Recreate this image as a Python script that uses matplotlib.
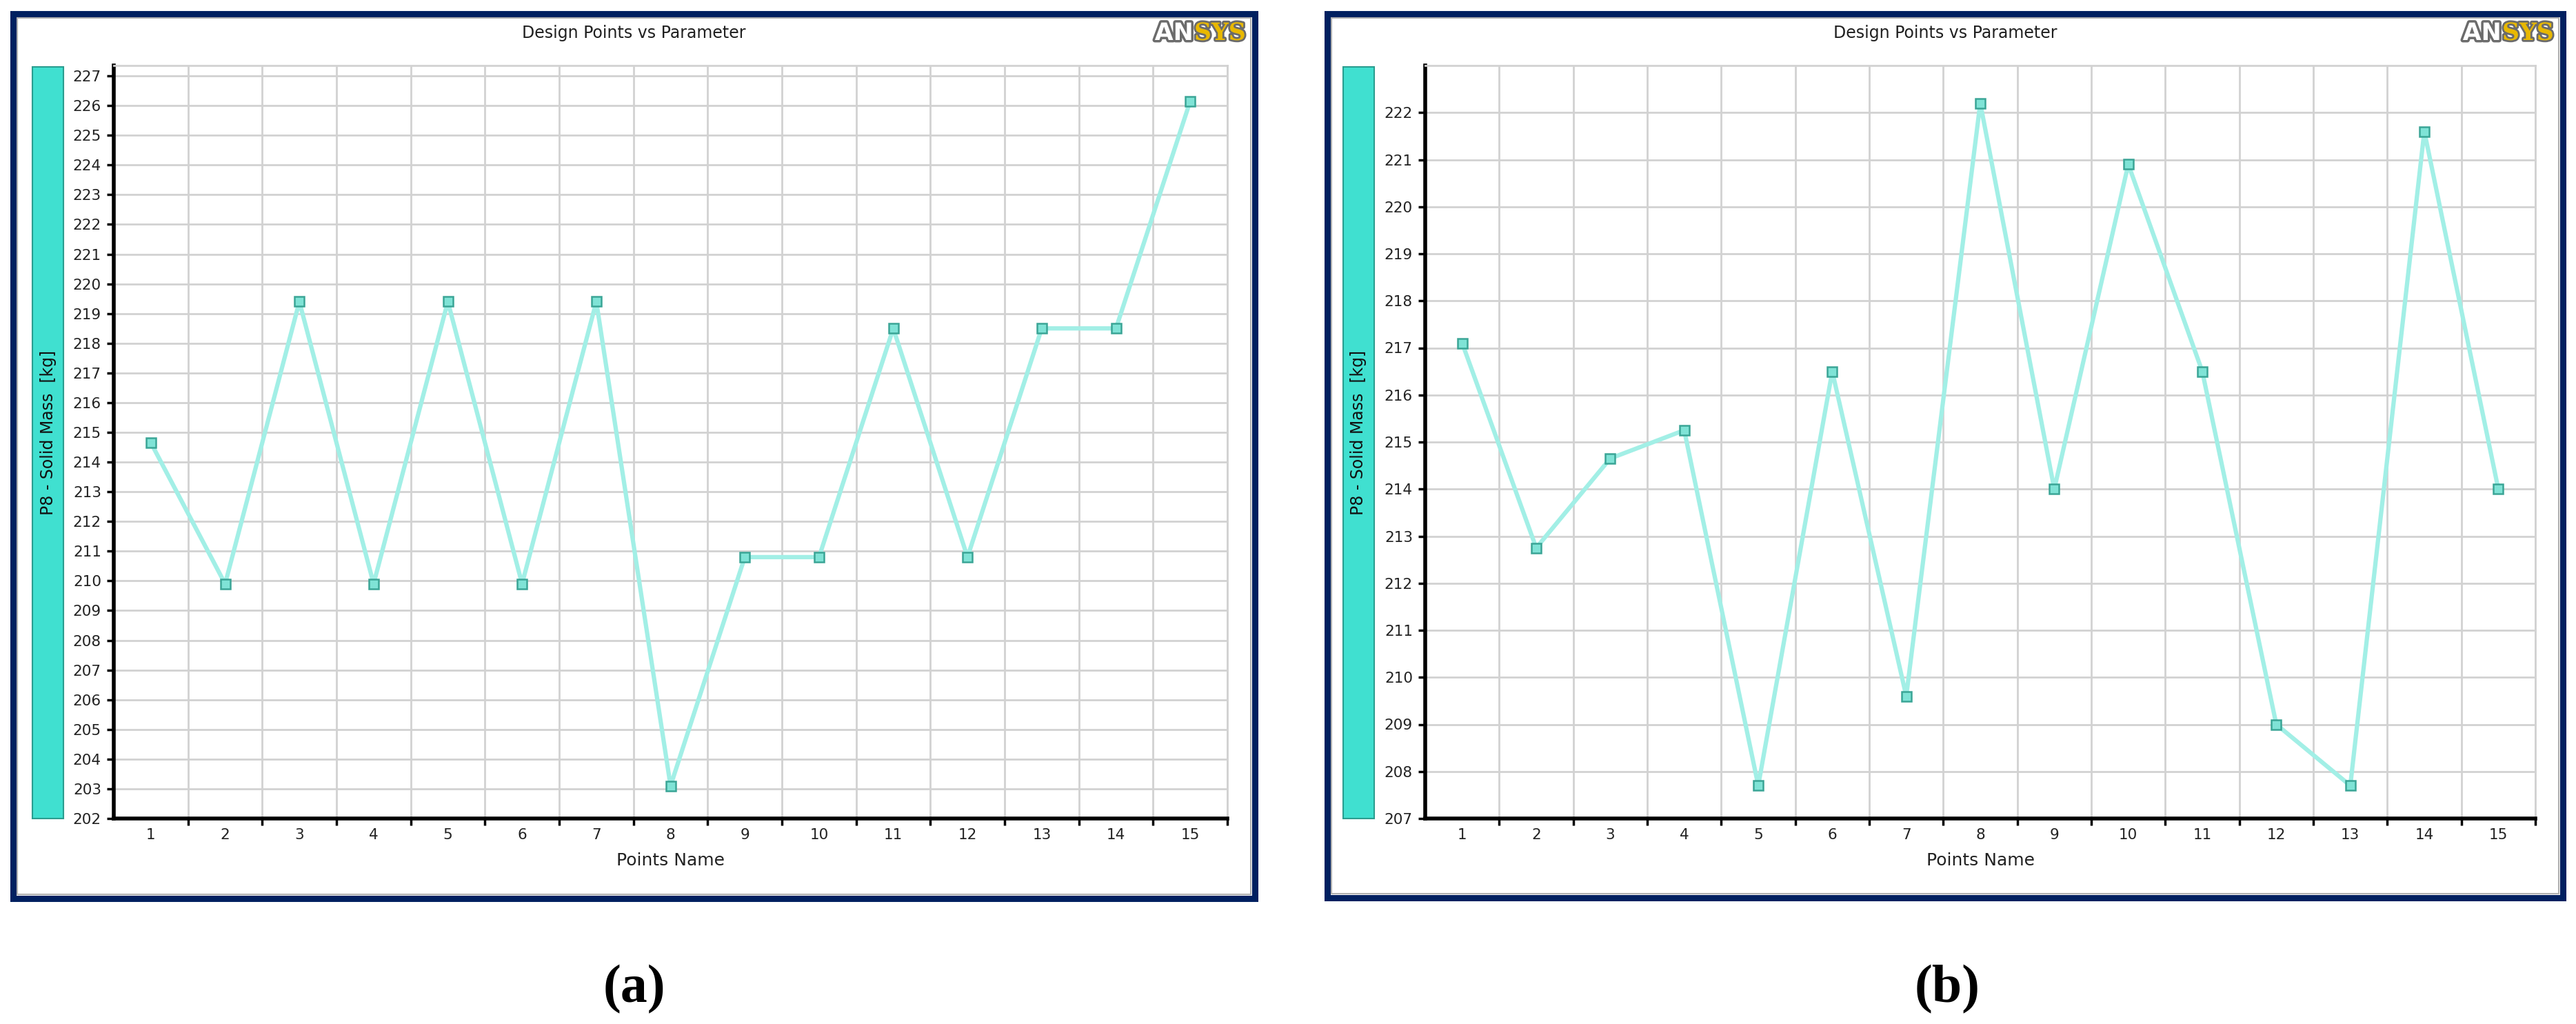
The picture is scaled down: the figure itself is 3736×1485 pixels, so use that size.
import matplotlib
matplotlib.use("Agg")
import matplotlib.pyplot as plt
import matplotlib.patches as patches
import matplotlib.patheffects as pe

# data
points = list(range(1, 16))
mass_a = [214.65, 209.9, 219.4, 209.9, 219.4, 209.9, 219.4, 203.1,
          210.8, 210.8, 218.5, 210.8, 218.5, 218.5, 226.15]
mass_b = [217.1, 212.75, 214.65, 215.25, 207.7, 216.5, 209.6, 222.2,
          214.0, 220.9, 216.5, 209.0, 207.7, 221.6, 214.0]
yticks_a = list(range(202, 228))
yticks_b = list(range(207, 223))
title = "Design Points vs Parameter"
ylabel = "P8 - Solid Mass  [kg]"
xlabel = "Points Name"
captions = ["(a)", "(b)"]

W, H = 3736, 1485
fig = plt.figure(figsize=(W / 100, H / 100), dpi=100)
fig.patch.set_facecolor("white")
renderer = fig.canvas.get_renderer()

NAVY = "#002060"
LINE = "#a2efe6"
TEAL = "#40e0d0"


def fbox(x0, y0, x1, y1):
    # pixel box (top-left origin) -> figure fraction [l, b, w, h]
    return [x0 / W, 1 - y1 / H, (x1 - x0) / W, (y1 - y0) / H]


def panel(frame, axbox, bar, values, yticks, ylim):
    fx0, fy0, fx1, fy1 = frame
    l, b, w, h = fbox(fx0, fy0, fx1, fy1)
    fig.patches.append(patches.Rectangle((l, b), w, h, transform=fig.transFigure,
                                         facecolor="white", edgecolor=NAVY, linewidth=6.5, zorder=-2))
    l2, b2, w2, h2 = fbox(fx0 + 6, fy0 + 6, fx1 - 6, fy1 - 6)
    fig.patches.append(patches.Rectangle((l2, b2), w2, h2, transform=fig.transFigure,
                                         facecolor="none", edgecolor="#b0b0b0", linewidth=1.5, zorder=-1))
    cx = (fx0 + fx1) / 2
    fig.text(cx / W, 1 - 48 / H, title, ha="center", va="center", fontsize=17, color="#202020")

    # ANSYS logo, "SYS" first then "AN" placed to its left
    lx = fx1 - 13
    sys_t = fig.text(lx / W, 1 - 48 / H, "SYS", ha="right", va="center", fontsize=25,
                     fontweight="bold", family="DejaVu Serif", color="#e8b800",
                     path_effects=[pe.withStroke(linewidth=4, foreground="#6b6b6b")])
    ext = sys_t.get_window_extent(renderer)
    fig.text((ext.x0 - 1) / W, 1 - 48 / H, "AN", ha="right", va="center", fontsize=25,
             fontweight="bold", family="DejaVu Sans", color="white",
             path_effects=[pe.withStroke(linewidth=5, foreground="#6b6b6b")])

    # teal y-label bar
    bx0, by0, bx1, by1 = bar
    lb = fbox(bx0, by0, bx1, by1)
    fig.patches.append(patches.Rectangle((lb[0], lb[1]), lb[2], lb[3], transform=fig.transFigure,
                                         facecolor=TEAL, edgecolor="#2a9d8f", linewidth=1.5, zorder=2))
    fig.text((bx0 + bx1) / 2 / W, 1 - ((by0 + by1) / 2 - 15) / H, ylabel, rotation=90,
             ha="center", va="center", fontsize=17, color="#111111", zorder=3)

    ax = fig.add_axes(fbox(*axbox))
    ax.set_zorder(5)
    ax.plot(points, values, color=LINE, linewidth=4.5, zorder=3)
    ax.plot(points, values, linestyle="none", marker="s", markersize=10,
            markerfacecolor="#7fe3d6", markeredgecolor="#3aa596", markeredgewidth=1.8, zorder=4)
    ax.set_xlim(0.5, 15.5)
    ax.set_ylim(*ylim)
    ax.set_yticks(yticks)
    ax.set_xticks(points)
    ax.set_xticks([p + 0.5 for p in points], minor=True)
    ax.tick_params(axis="x", which="major", length=0, labelsize=15.5, pad=10, labelcolor="#222222")
    ax.tick_params(axis="x", which="minor", length=7, width=2.5, direction="out", color="black")
    ax.tick_params(axis="y", which="major", length=7, width=2.5, labelsize=15.5, pad=6,
                   labelcolor="#222222")
    ax.grid(False)
    ax.grid(True, which="minor", axis="x", color="#d2d2d2", linewidth=2)
    ax.grid(True, which="major", axis="y", color="#d2d2d2", linewidth=2)
    ax.set_axisbelow(True)
    for s in ("left", "bottom"):
        ax.spines[s].set_linewidth(4)
        ax.spines[s].set_color("black")
    for s in ("top", "right"):
        ax.spines[s].set_linewidth(2)
        ax.spines[s].set_color("#d2d2d2")
    axc = (axbox[0] + axbox[2]) / 2
    fig.text(axc / W, 1 - 1248 / H, xlabel, ha="center", va="center", fontsize=18, color="#222222")
    return ax


panel((19, 20, 1820, 1303), (165, 95, 1780, 1187), (47, 97, 92, 1187),
      mass_a, yticks_a, (202, 227.35))
panel((1925, 20, 3717, 1302), (2067, 95, 3677, 1187), (1948, 97, 1993, 1187),
      mass_b, yticks_b, (207, 223))

fig.text(920 / W, 1 - 1435 / H, captions[0], ha="center", va="center", fontsize=56,
         family="Liberation Serif", fontweight="bold")
fig.text(2824 / W, 1 - 1435 / H, captions[1], ha="center", va="center", fontsize=56,
         family="Liberation Serif", fontweight="bold")

fig.savefig("out.png", dpi=100, facecolor="white")
